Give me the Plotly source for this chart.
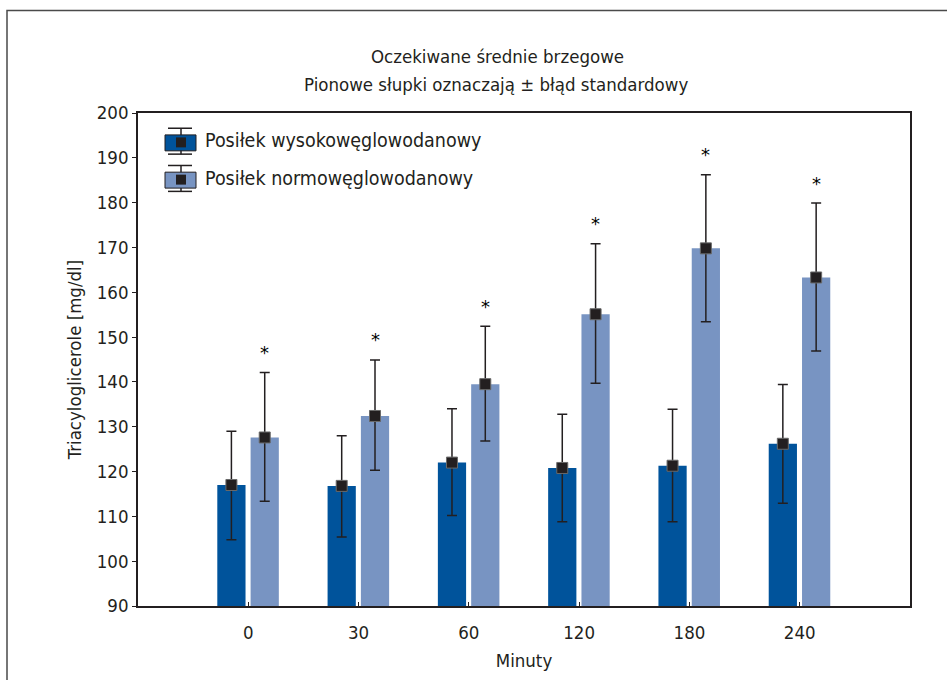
import plotly.graph_objects as go

# ---- data ----
categories = ["0", "30", "60", "120", "180", "240"]
high_mean = [117.0, 116.8, 122.0, 120.8, 121.3, 126.2]
high_upper = [129.0, 128.0, 134.0, 132.8, 133.9, 139.4]
high_lower = [104.8, 105.4, 110.2, 108.8, 108.8, 112.9]
norm_mean = [127.6, 132.4, 139.5, 155.1, 169.8, 163.3]
norm_upper = [142.1, 144.9, 152.4, 170.8, 186.2, 179.9]
norm_lower = [113.4, 120.3, 126.8, 139.7, 153.4, 146.9]
significant = [True, True, True, True, True, True]
series_names = ["Posiłek wysokowęglowodanowy", "Posiłek normowęglowodanowy"]
y_ticks = [90, 100, 110, 120, 130, 140, 150, 160, 170, 180, 190, 200]

# ---- style ----
FONT = "Liberation Sans Narrow, DejaVu Sans Condensed, Arial Narrow, sans-serif"
DARK = "#00539b"
LIGHT = "#7894c2"
INK = "#231f20"
W, H = 947, 680
L, R, T, B = 138, 37, 113, 72
PW, PH = W - L - R, H - T - B

BAR_W = 0.256
OFF_DARK = -0.281
OFF_LIGHT = 0.021

idx = list(range(len(categories)))
x_dark = [i + OFF_DARK + BAR_W / 2 for i in idx]
x_light = [i + OFF_LIGHT + BAR_W / 2 for i in idx]


def px(x):
    return (x - L) / PW


def py(y):
    return (H - B - y) / PH


fig = go.Figure()

for xs, mean, up, lo, col, off in [
    (x_dark, high_mean, high_upper, high_lower, DARK, OFF_DARK),
    (x_light, norm_mean, norm_upper, norm_lower, LIGHT, OFF_LIGHT),
]:
    fig.add_trace(go.Bar(
        x=idx, y=[m - 90 for m in mean], base=90, width=BAR_W, offset=off,
        marker=dict(color=col, line=dict(width=0)), showlegend=False,
        hoverinfo="skip"))
    fig.add_trace(go.Scatter(
        x=xs, y=mean, mode="markers",
        marker=dict(symbol="square", size=11, color=INK,
                    line=dict(width=1, color="#6a6a6a")),
        error_y=dict(type="data", symmetric=False,
                     array=[u - m for u, m in zip(up, mean)],
                     arrayminus=[m - l for m, l in zip(mean, lo)],
                     color=INK, thickness=1.5, width=5),
        showlegend=False))

annotations = []
for i, sig in enumerate(significant):
    if sig:
        annotations.append(dict(
            x=x_light[i], y=norm_upper[i], xref="x", yref="y", text="*",
            showarrow=False, yshift=20, yanchor="middle",
            font=dict(size=18, color="#000000", family="DejaVu Sans")))

# titles
annotations.append(dict(x=px(497), y=py(56), xref="paper", yref="paper",
                        xanchor="center", yanchor="middle",
                        text="Oczekiwane średnie brzegowe", showarrow=False,
                        font=dict(size=18.5, color=INK, family=FONT)))
annotations.append(dict(x=px(496), y=py(84), xref="paper", yref="paper",
                        xanchor="center", yanchor="middle",
                        text="Pionowe słupki oznaczają ± błąd standardowy", showarrow=False,
                        font=dict(size=18.5, color=INK, family=FONT)))

shapes = []
# outer frame
shapes.append(dict(type="rect", xref="paper", yref="paper",
                   x0=px(7), x1=px(960), y0=py(700), y1=py(10),
                   line=dict(color="#4a4a4a", width=1.5), layer="below"))

# manual legend
for k, (name, col) in enumerate(zip(series_names, [DARK, LIGHT])):
    dy = k * 37.4
    cx = 181
    shapes.append(dict(type="line", xref="paper", yref="paper",
                       x0=px(cx), x1=px(cx), y0=py(128.3 + dy), y1=py(154.3 + dy),
                       line=dict(color=INK, width=1.5)))
    for yy in (128.3, 154.3):
        shapes.append(dict(type="line", xref="paper", yref="paper",
                           x0=px(168), x1=px(192), y0=py(yy + dy), y1=py(yy + dy),
                           line=dict(color=INK, width=1.5)))
    shapes.append(dict(type="rect", xref="paper", yref="paper",
                       x0=px(165), x1=px(196), y0=py(151 + dy), y1=py(135 + dy),
                       fillcolor=col, line=dict(color=INK, width=1)))
    shapes.append(dict(type="rect", xref="paper", yref="paper",
                       x0=px(176), x1=px(186), y0=py(147.5 + dy), y1=py(137.5 + dy),
                       fillcolor=INK, line=dict(width=0)))
    annotations.append(dict(x=px(203), y=py(141 + dy), xref="paper", yref="paper",
                            xanchor="left", yanchor="middle", text=name, showarrow=False,
                            font=dict(size=19.5, color=INK, family=FONT)))

fig.update_layout(
    width=W, height=H,
    margin=dict(l=L, r=R, t=T, b=B, pad=0),
    paper_bgcolor="white", plot_bgcolor="white",
    font=dict(family=FONT, size=18, color=INK),
    barmode="overlay",
    showlegend=False,
    shapes=shapes, annotations=annotations,
    xaxis=dict(range=[-1, 6], tickvals=idx, ticktext=categories,
               ticks="inside", ticklen=4, tickcolor=INK, tickwidth=1,
               ticklabelstandoff=9,
               showline=True, linecolor=INK, linewidth=1.5, mirror=True,
               showgrid=False, zeroline=False,
               title=dict(text="Minuty", standoff=12, font=dict(size=18.5)),
               tickfont=dict(size=18.5)),
    yaxis=dict(range=[90, 200], tickvals=y_ticks,
               ticks="outside", ticklen=4, tickcolor=INK, tickwidth=1,
               showline=True, linecolor=INK, linewidth=1.5, mirror=True,
               showgrid=False, zeroline=False,
               title=dict(text="Triacyloglicerole [mg/dl]", standoff=10, font=dict(size=18.5)),
               tickfont=dict(size=18.5)),
)

fig.write_html("out.html", config={"displayModeBar": False},
               post_script="document.body.style.margin='0';document.body.style.overflow='hidden';")
